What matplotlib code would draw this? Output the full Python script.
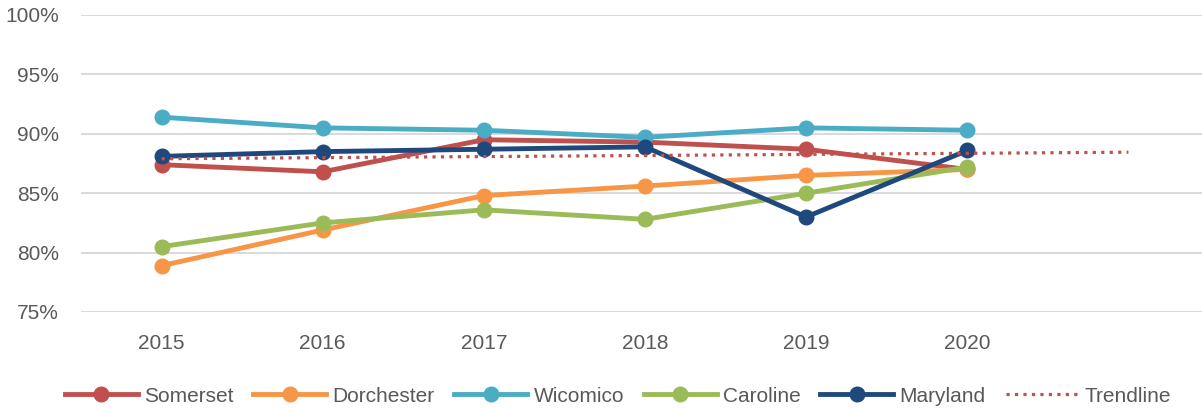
import matplotlib.pyplot as plt
import numpy as np

plt.rcParams['font.family'] = ['Liberation Sans Narrow', 'Liberation Sans', 'DejaVu Sans']

years = ['2015', '2016', '2017', '2018', '2019', '2020', '']
somerset = [87.4, 86.8, 89.5, 89.3, 88.7, 87.0]
dorchester = [78.9, 81.9, 84.8, 85.6, 86.5, 87.0]
wicomico = [91.4, 90.5, 90.3, 89.7, 90.5, 90.3]
caroline = [80.5, 82.5, 83.6, 82.8, 85.0, 87.2]
maryland = [88.1, 88.5, 88.7, 88.9, 83.0, 88.6]
trend_idx = [0, 6]
trend_vals = [87.9, 88.45]

series = [('Somerset', somerset, '#C0504D'),
          ('Dorchester', dorchester, '#F79646'),
          ('Wicomico', wicomico, '#4BACC6'),
          ('Caroline', caroline, '#9BBB59'),
          ('Maryland', maryland, '#1F497D')]

fig = plt.figure(figsize=(12.02, 4.08), dpi=100)
ax = fig.add_axes([81/1202, 1-312/408, 1128/1202, 297/408])

x = np.arange(len(somerset))
for name, vals, col in series:
    ax.plot(x, vals, '-o', color=col, lw=3.5, markersize=10.5, label=name, zorder=3)
ax.plot(trend_idx, trend_vals, ':', color='#C0504D', lw=2.3, label='Trendline', zorder=4)

ax.set_xlim(-0.5, 6.5)
ax.set_ylim(75, 100)
ax.set_yticks(np.arange(75, 101, 5))
ax.set_yticklabels(['{}%'.format(v) for v in range(75, 101, 5)])
ax.set_xticks(np.arange(len(years)))
ax.set_xticklabels(years)
ax.tick_params(axis='both', length=0, labelsize=15, colors='#595959')
ax.tick_params(axis='x', pad=16)
ax.tick_params(axis='y', pad=16)
ax.grid(axis='y', color='#D9D9D9', lw=1.4)
ax.set_axisbelow(True)
for s in ax.spines.values():
    s.set_visible(False)

leg = fig.legend(loc='center', bbox_to_anchor=(618/1202, 1-396/408), ncol=6, frameon=False,
                 fontsize=15, handlelength=3.5, handletextpad=0.3, columnspacing=0.95)
for t in leg.get_texts():
    t.set_color('#595959')

fig.savefig('out.png', dpi=100)
